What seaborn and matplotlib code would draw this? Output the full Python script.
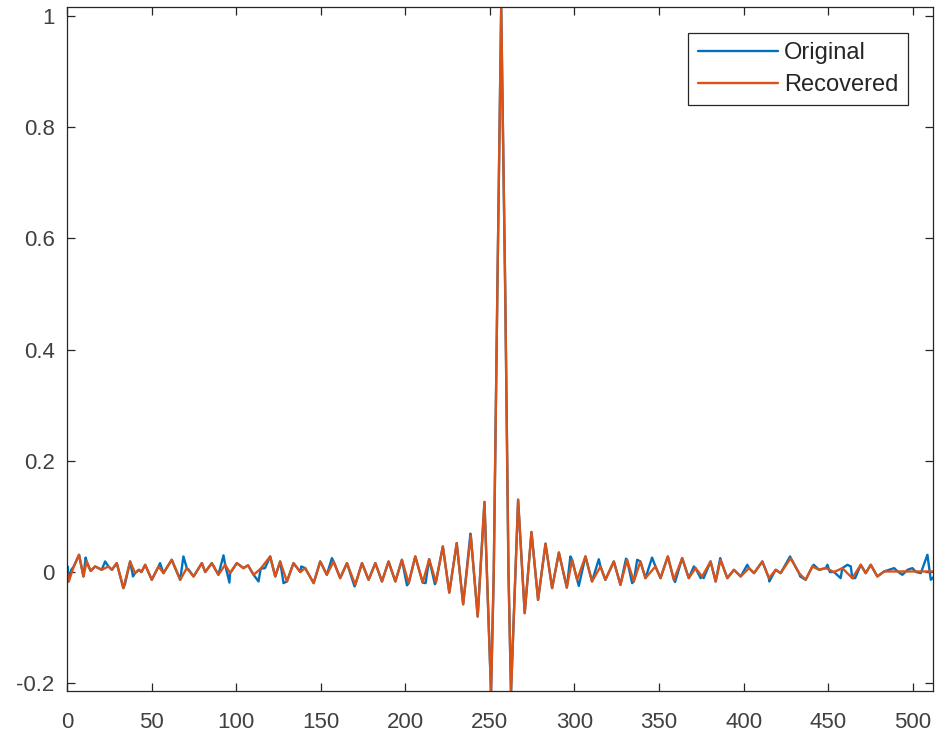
import matplotlib
matplotlib.use("Agg")
import matplotlib.pyplot as plt
import seaborn as sns
import pandas as pd

# recovered signal at its turning points
rec_x = [0, 1.0, 4.0, 7.1, 9.7, 11.6, 14.0, 16.6, 20.5, 24.5,
         26.5, 29.4, 33.3, 37.3, 40.2, 42.5, 44.0, 46.2, 50.1, 54.1,
         57.0, 61.9, 66.9, 70.8, 74.8, 79.7, 81.7, 85.6, 89.5, 93.5,
         96.4, 100.4, 104.3, 107.0, 110.3, 114.5, 120.1, 123.1, 126.0, 130.0,
         133.9, 137.9, 140.8, 145.8, 149.7, 153.6, 157.6, 161.5, 165.5, 170.4,
         174.4, 178.3, 182.3, 186.2, 190.1, 194.1, 198.0, 202.0, 205.9, 210.3,
         214.1, 218.1, 222.2, 226.0, 230.4, 234.2, 238.7, 242.8, 246.8, 250.7,
         252.3, 254.4, 256.7, 259.1, 261.0, 262.5, 266.7, 270.6, 274.6, 278.5,
         282.9, 286.8, 290.8, 295.5, 298.6, 301.6, 306.5, 310.4, 315.4, 318.3,
         323.3, 327.2, 331.1, 335.1, 339.0, 342.0, 347.9, 350.9, 355.2, 358.8,
         363.7, 367.6, 371.6, 375.5, 380.5, 383.5, 386.4, 390.4, 394.3, 398.3,
         403.2, 406.2, 411.1, 415.0, 419.0, 421.9, 427.9, 432.8, 436.7, 440.7,
         444.6, 448.6, 453.5, 458.4, 464.3, 469.3, 472.2, 475.2, 479.1, 483.1,
         512.0]
rec_y = [0.000, -0.017, 0.010, 0.031, -0.008, 0.019, 0.002, 0.010, 0.004, 0.010,
         0.004, 0.016, -0.029, 0.019, -0.002, 0.004, 0.000, 0.013, -0.014, 0.010,
         -0.002, 0.022, -0.014, 0.007, -0.008, 0.016, 0.000, 0.016, -0.005, 0.013,
         -0.002, 0.016, 0.007, 0.012, -0.005, 0.006, 0.028, -0.008, 0.019, -0.017,
         0.016, 0.000, 0.007, -0.020, 0.019, -0.005, 0.019, -0.011, 0.016, -0.023,
         0.016, -0.014, 0.016, -0.017, 0.019, -0.017, 0.022, -0.020, 0.028, -0.019,
         0.023, -0.018, 0.046, -0.037, 0.052, -0.058, 0.066, -0.080, 0.126, -0.217,
         0.000, 0.500, 1.016, 0.500, 0.000, -0.217, 0.130, -0.074, 0.072, -0.050,
         0.051, -0.029, 0.035, -0.028, 0.022, -0.014, 0.028, -0.017, 0.010, -0.014,
         0.019, -0.023, 0.022, -0.017, 0.019, -0.011, 0.010, -0.011, 0.028, -0.014,
         0.025, -0.011, 0.007, -0.008, 0.019, -0.017, 0.022, -0.011, 0.004, -0.008,
         0.007, -0.002, 0.019, -0.011, 0.004, -0.002, 0.025, -0.002, -0.014, 0.010,
         0.004, 0.007, 0.000, 0.007, -0.011, 0.013, -0.002, 0.013, -0.008, 0.001,
         0.001]

# extra wiggles of the noisy original, where the blue trace shows from under the orange
orig_x = [0.3, 2.5, 11.0, 13.0, 22.5, 34.3, 39.0, 55.0, 68.8, 72.0,
          92.5, 96.0, 113.2, 117.0, 128.0, 138.5, 156.6, 170.0, 201.0, 212.0,
          217.5, 238.5, 297.6, 302.6, 314.4, 330.5, 334.1, 337.1, 345.9, 359.5,
          370.6, 374.6, 376.4, 386.2, 402.2, 415.2, 427.5, 433.5, 441.5, 449.6,
          451.0, 457.4, 461.4, 463.4, 466.0, 489.0, 491.5, 493.9, 497.0, 499.8,
          502.0, 504.8, 508.7, 510.7, 512.0]
orig_y = [0.010, 0.004, 0.026, 0.008, 0.019, -0.021, -0.008, 0.016, 0.028, 0.004,
          0.030, -0.019, -0.017, 0.007, -0.020, 0.010, 0.025, -0.026, -0.024, -0.020,
          -0.022, 0.069, 0.028, -0.025, 0.023, 0.024, -0.020, 0.022, 0.026, -0.018,
          0.010, -0.011, -0.011, 0.025, 0.013, -0.017, 0.028, -0.008, 0.013, 0.013,
          0.000, -0.011, 0.013, 0.010, -0.011, 0.007, 0.000, -0.005, 0.004, 0.007,
          0.000, -0.002, 0.031, -0.014, -0.010]

x_ticks = [0, 50, 100, 150, 200, 250, 300, 350, 400, 450, 500]
y_ticks = [-0.2, 0, 0.2, 0.4, 0.6, 0.8, 1]
y_tick_labels = ["-0.2", "0", "0.2", "0.4", "0.6", "0.8", "1"]

rec = pd.DataFrame({"x": rec_x, "y": rec_y})
orig = pd.concat([rec, pd.DataFrame({"x": orig_x, "y": orig_y})])
orig = orig.drop_duplicates("x", keep="last").sort_values("x")

sns.set_style("ticks")
plt.rcParams["font.family"] = ["Liberation Sans", "DejaVu Sans"]
plt.rcParams["axes.unicode_minus"] = False

fig = plt.figure(figsize=(9.39, 7.36), dpi=100)
ax = fig.add_axes([0.0714, 0.0611, 0.9222, 0.9294])

sns.lineplot(data=orig, x="x", y="y", ax=ax, color="#0072BD", lw=1.7, label="Original")
sns.lineplot(data=rec, x="x", y="y", ax=ax, color="#D95319", lw=1.7, label="Recovered")

ax.set_xlim(0, 512)
ax.set_ylim(-0.214, 1.016)
ax.set_xticks(x_ticks)
ax.set_yticks(y_ticks)
ax.set_yticklabels(y_tick_labels)
ax.set_xlabel("")
ax.set_ylabel("")

for s in ax.spines.values():
    s.set_visible(True)
    s.set_color("#262626")
    s.set_linewidth(0.9)
ax.tick_params(direction="in", length=6, width=0.9, top=True, right=True,
               colors="#262626", labelcolor="#404040", labelsize=16)
ax.tick_params(axis="y", pad=9)
ax.tick_params(axis="x", pad=15)

leg = ax.legend(loc="upper right", bbox_to_anchor=(0.971, 0.962), borderaxespad=0,
                fancybox=False, framealpha=1, edgecolor="#262626", fontsize=17,
                handlelength=3.4, handletextpad=0.25, labelspacing=0.4, borderpad=0.4)
leg.get_frame().set_linewidth(0.9)
for t in leg.get_texts():
    t.set_color("#262626")

fig.savefig("out.png", dpi=100)
